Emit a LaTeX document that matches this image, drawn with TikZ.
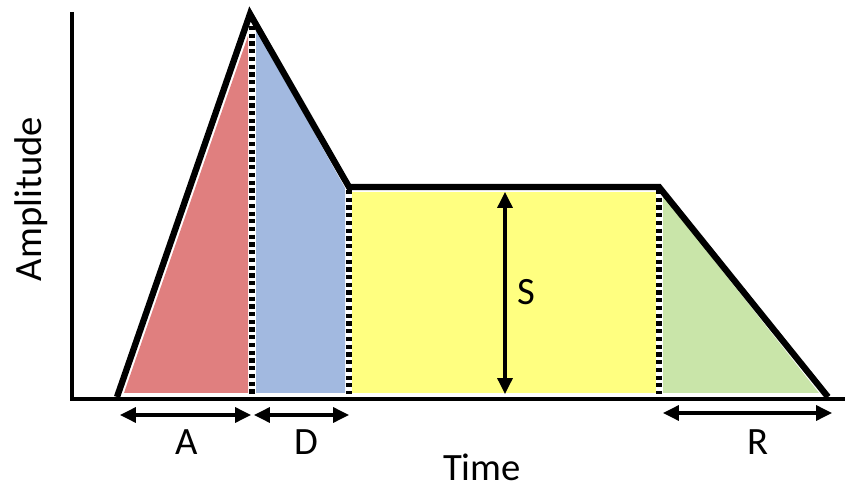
\documentclass[tikz,border=0pt]{standalone}
\usepackage{fontspec}
\setmainfont{Carlito}
\usetikzlibrary{arrows.meta}
\definecolor{attack}{HTML}{E07F7F}
\definecolor{decay}{HTML}{A2B9E0}
\definecolor{sustain}{HTML}{FFFF80}
\definecolor{release}{HTML}{C9E5A9}

\begin{document}
\begin{tikzpicture}[x=0.02cm,y=-0.02cm,font=\fontsize{22}{26}\selectfont,
    span/.style={{Triangle[length=9pt,width=8.5pt]}-{Triangle[length=9pt,width=8.5pt]},line width=1.8pt},
    phase/.style={draw=white,line width=3.2pt,postaction={draw=black,line width=3.2pt,dash pattern=on 2.4pt off 2pt}}]
        \useasboundingbox (0,0) rectangle (845,489);
        % envelope corners
        \coordinate (start) at (117,397);
        \coordinate (peak) at (250,14);
        \coordinate (hold) at (349,187);
        \coordinate (off) at (659,187);
        \coordinate (stop) at (828,397);
        % phase fills
        \fill[attack] (124,393)--(248,36)--(248,393)--cycle;
        \fill[decay] (256,28)--(345,188)--(345,393)--(256,393)--cycle;
        \fill[sustain] (352,192) rectangle (656,393);
        \fill[release] (663,196)--(819,393)--(663,393)--cycle;
        % phase borders
        \draw[phase] (252,26)--(252,394);
        \draw[phase] (349,190)--(349,394);
        \draw[phase] (659,190)--(659,394);
        % axes
        \draw[line width=2.8pt] (72,12)--(72,399) coordinate (origin)--(845,399);
        \draw[line width=3.6pt,line join=miter] (start)--(peak)--(hold)--(off)--(stop);
        % spans
        \coordinate (a0) at (120,415); \coordinate (a1) at (251,415);
        \coordinate (d0) at (254,415); \coordinate (d1) at (349,415);
        \coordinate (r0) at (663,413); \coordinate (r1) at (832,413);
        \coordinate (s0) at (505,192); \coordinate (s1) at (505,394);
        \draw[span] (a0)--(a1);
        \draw[span] (d0)--(d1);
        \draw[span] (r0)--(r1);
        \draw[span] (s0)--(s1);
        \node (lblA) at (187,442){A};
        \node (lblD) at (306,442){D};
        \node (lblR) at (758,442){R};
        \node (lblS) at (526,292){S};
        \node (time) at (482,467){Time};
        \node[rotate=90] (amp) at (31,199){Amplitude};
      \end{tikzpicture}
\end{document}
